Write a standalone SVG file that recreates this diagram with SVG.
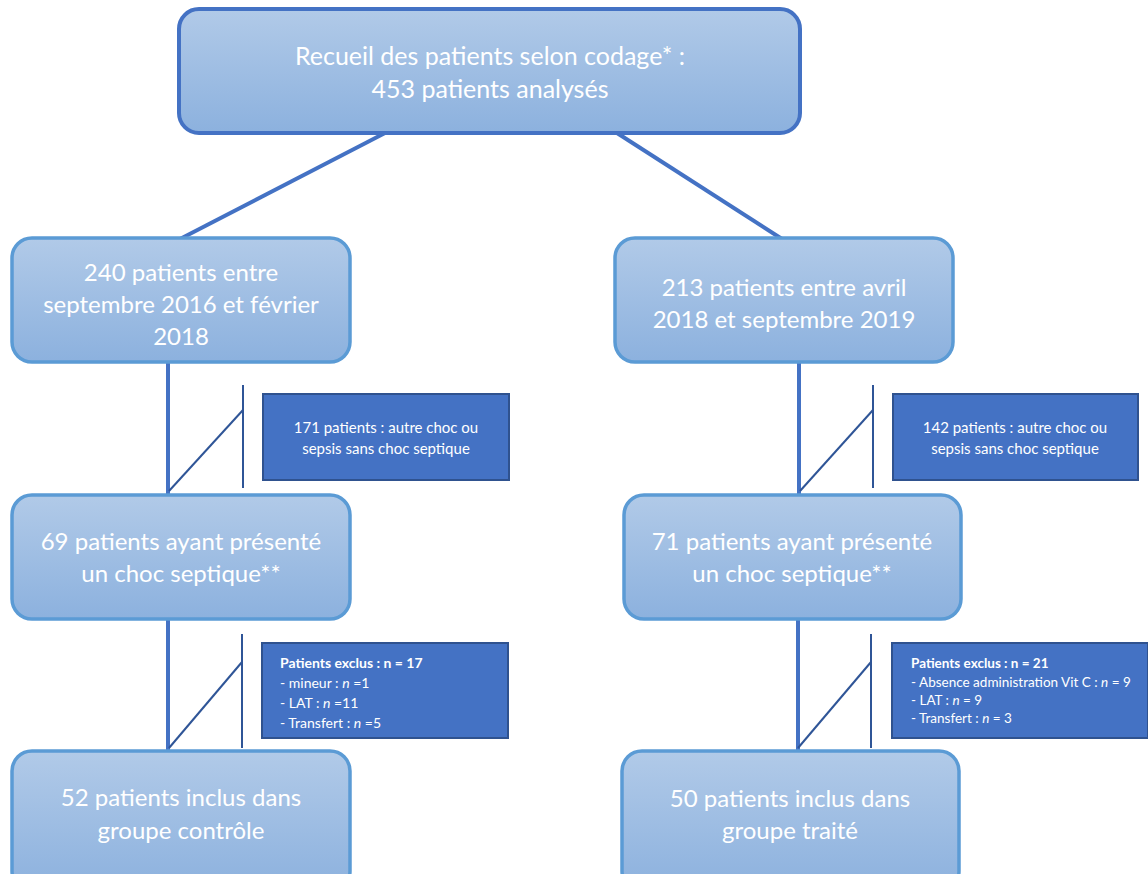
<svg xmlns="http://www.w3.org/2000/svg" width="1148" height="874" viewBox="0 0 1148 874">
<defs>
<linearGradient id="g" x1="0" y1="0" x2="0" y2="1">
<stop offset="0" stop-color="#b1cae8"/>
<stop offset="1" stop-color="#8cb1de"/>
</linearGradient>
<style>
.box{fill:url(#g);stroke:#5b9bd5;stroke-width:3.5}
.top{fill:url(#g);stroke:#4472c4;stroke-width:4}
.ex{fill:#4472c4;stroke:#2f528f;stroke-width:2}
.t{font-family:Lato,"Open Sans",sans-serif;font-size:24px;fill:#ffffff;text-anchor:middle}
.tt{font-size:25px}
.s{font-family:Lato,"Open Sans",sans-serif;font-size:15px;fill:#ffffff;text-anchor:middle}
.l{font-family:Lato,"Open Sans",sans-serif;font-size:14px;fill:#ffffff}
.l2{font-family:Lato,"Open Sans",sans-serif;font-size:13.5px;fill:#ffffff}
.b{font-weight:bold}
.main{stroke:#4472c4;stroke-width:4;fill:none}
.thin{stroke:#2f5597;stroke-width:2;fill:none}
</style>
</defs>
<rect width="1148" height="874" fill="#ffffff"/>
<g id="connectors">
<line class="main" x1="385" y1="133" x2="180" y2="239"/>
<line class="main" x1="617" y1="133" x2="782" y2="239"/>
<line class="main" x1="168" y1="362" x2="168" y2="496"/>
<line class="main" x1="168" y1="619" x2="168" y2="751"/>
<line class="main" x1="799" y1="362" x2="799" y2="496"/>
<line class="main" x1="798" y1="619" x2="798" y2="751"/>
<line class="thin" x1="243" y1="385" x2="243" y2="488"/>
<line class="thin" x1="169" y1="491" x2="243" y2="410"/>
<line class="thin" x1="242" y1="634" x2="242" y2="748"/>
<line class="thin" x1="169" y1="748" x2="242" y2="662"/>
<line class="thin" x1="873" y1="385" x2="873" y2="488"/>
<line class="thin" x1="800" y1="491" x2="873" y2="410"/>
<line class="thin" x1="871" y1="634" x2="871" y2="748"/>
<line class="thin" x1="798" y1="748" x2="871" y2="662"/>
</g>
<g id="n-top">
<rect class="top" x="179" y="9" width="621" height="124" rx="20"/>
<text class="t tt" x="490" y="65">Recueil des patients selon codage* :</text>
<text class="t tt" x="490" y="98">453 patients analysés</text>
</g>
<g id="n-240">
<rect class="box" x="12" y="238" width="338" height="124" rx="20"/>
<text class="t" x="181" y="281">240 patients entre</text>
<text class="t" x="181" y="313">septembre 2016 et février</text>
<text class="t" x="181" y="345">2018</text>
</g>
<g id="n-213">
<rect class="box" x="615" y="238" width="338" height="124" rx="20"/>
<text class="t" x="784" y="296">213 patients entre avril</text>
<text class="t" x="784" y="328">2018 et septembre 2019</text>
</g>
<g id="n-ex171">
<rect class="ex" x="263" y="394" width="246" height="86"/>
<text class="s" x="386" y="433">171 patients : autre choc ou</text>
<text class="s" x="386" y="454">sepsis sans choc septique</text>
</g>
<g id="n-ex142">
<rect class="ex" x="893" y="394" width="245" height="86"/>
<text class="s" x="1015" y="433">142 patients : autre choc ou</text>
<text class="s" x="1015" y="454">sepsis sans choc septique</text>
</g>
<g id="n-69">
<rect class="box" x="12" y="495" width="338" height="124" rx="20"/>
<text class="t" x="181" y="550">69 patients ayant présenté</text>
<text class="t" x="181" y="582">un choc septique**</text>
</g>
<g id="n-71">
<rect class="box" x="624" y="495" width="337" height="124" rx="20"/>
<text class="t" x="792" y="550">71 patients ayant présenté</text>
<text class="t" x="792" y="582">un choc septique**</text>
</g>
<g id="n-ex17">
<rect class="ex" x="262" y="643" width="246" height="95"/>
<text class="l b" x="280" y="668">Patients exclus : n = 17</text>
<text class="l" x="280" y="688">- mineur : <tspan font-style="italic">n</tspan> =1</text>
<text class="l" x="280" y="708">- LAT : <tspan font-style="italic">n</tspan> =11</text>
<text class="l" x="280" y="728">- Transfert : <tspan font-style="italic">n</tspan> =5</text>
</g>
<g id="n-ex21">
<rect class="ex" x="892" y="643" width="256" height="95"/>
<text class="l2 b" x="911" y="668">Patients exclus : n = 21</text>
<text class="l2" x="911" y="687">- Absence administration Vit C : <tspan font-style="italic">n</tspan> = 9</text>
<text class="l2" x="911" y="705">- LAT : <tspan font-style="italic">n</tspan> = 9</text>
<text class="l2" x="911" y="723">- Transfert : <tspan font-style="italic">n</tspan> = 3</text>
</g>
<g id="n-52">
<rect class="box" x="12" y="751" width="338" height="140" rx="20"/>
<text class="t" x="181" y="806">52 patients inclus dans</text>
<text class="t" x="181" y="839">groupe contrôle</text>
</g>
<g id="n-50">
<rect class="box" x="622" y="751" width="337" height="140" rx="20"/>
<text class="t" x="790" y="807">50 patients inclus dans</text>
<text class="t" x="790" y="839">groupe traité</text>
</g>
</svg>
